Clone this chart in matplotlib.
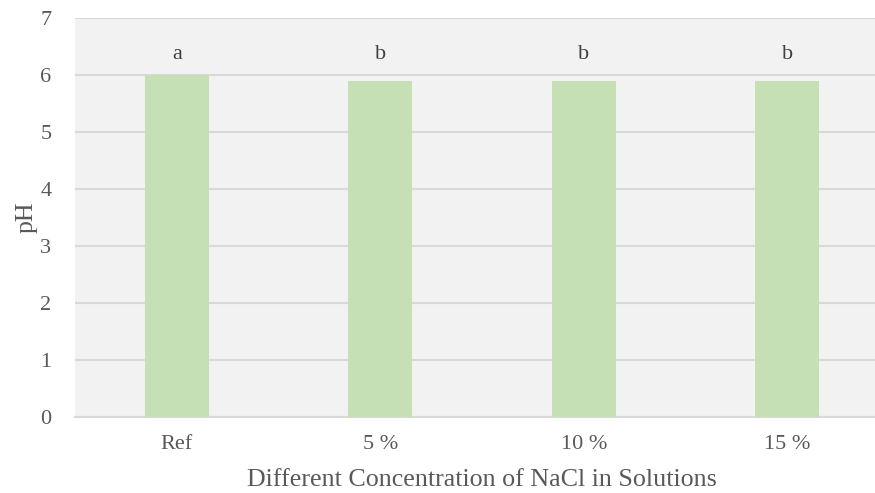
import matplotlib
matplotlib.use("Agg")
import matplotlib.pyplot as plt

categories = ["Ref", "5 %", "10 %", "15 %"]
ph_values = [6.0, 5.9, 5.9, 5.9]
letters = ["a", "b", "b", "b"]

plt.rcParams["font.family"] = ["Liberation Serif", "DejaVu Serif"]
text_color = "#595959"
grid_color = "#d9d9d9"
bar_color = "#c5e0b4"

fig = plt.figure(figsize=(8.75, 4.93), dpi=100)
ax = fig.add_axes([75 / 875, 76 / 493, 814 / 875, 399 / 493])
ax.set_facecolor("#f2f2f2")

x = list(range(len(categories)))
ax.bar(x, ph_values, width=0.315, color=bar_color, zorder=3)

for xi, val, lab in zip(x, ph_values, letters):
    ax.text(xi, 6.2, lab, ha="center", va="bottom", fontsize=16, color="#404040")

ax.set_xlim(-0.5, len(categories) - 0.5)
ax.set_ylim(0, 7)
ax.set_yticks(range(0, 8))
ax.set_xticks(x)
ax.set_xticklabels(categories)
ax.yaxis.grid(True, color=grid_color, linewidth=1.5, zorder=0)
ax.set_axisbelow(True)
for side in ["top", "right", "left"]:
    ax.spines[side].set_visible(False)
ax.spines["bottom"].set_color(grid_color)
ax.spines["bottom"].set_linewidth(1.5)
ax.tick_params(axis="both", length=0, labelsize=16, colors=text_color)
ax.tick_params(axis="x", pad=13)
ax.tick_params(axis="y", pad=17)

ax.set_xlabel("Different Concentration of NaCl in Solutions", fontsize=18.7,
              color=text_color, labelpad=11)
ax.set_ylabel("pH", fontsize=18.7, color=text_color, labelpad=2)

fig.savefig("out.png", dpi=100)
